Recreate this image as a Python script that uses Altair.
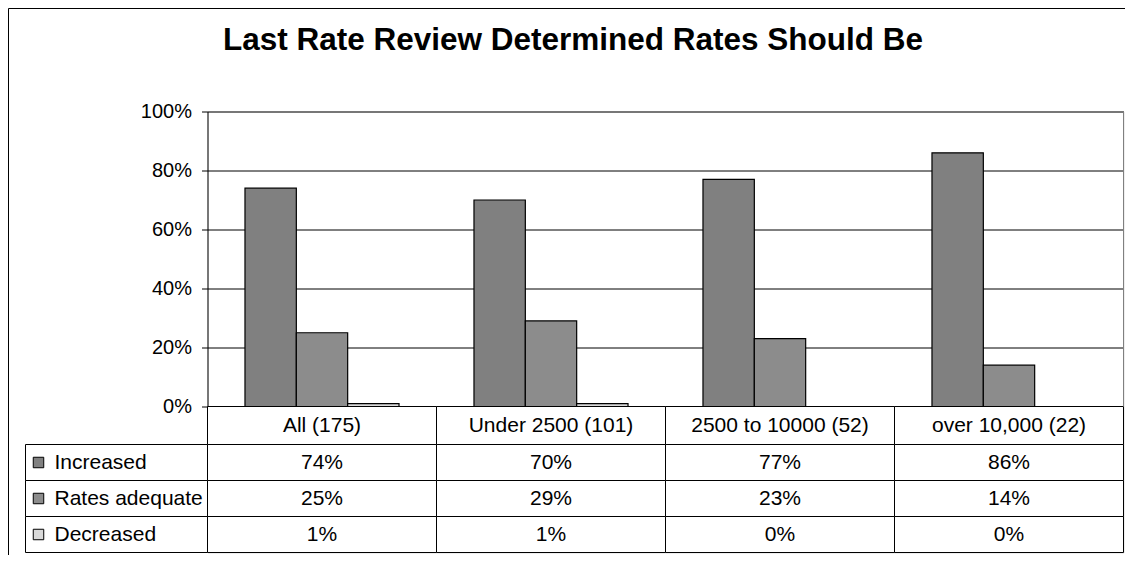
import altair as alt
import pandas as pd

title_text = "Last Rate Review Determined Rates Should Be"
categories = ["All (175)", "Under 2500 (101)", "2500 to 10000 (52)", "over 10,000 (22)"]
series = ["Increased", "Rates adequate", "Decreased"]
increased = [74, 70, 77, 86]
rates_adequate = [25, 29, 23, 14]
decreased = [1, 1, 0, 0]
colors = ["#808080", "#8c8c8c", "#d9d9d9"]
y_ticks = [0, 0.2, 0.4, 0.6, 0.8, 1.0]

rows = []
for s, vals in zip(series, [increased, rates_adequate, decreased]):
    for c, v in zip(categories, vals):
        rows.append({"category": c, "series": s, "value": v / 100, "label": f"{v}%"})
df = pd.DataFrame(rows)
cat_df = pd.DataFrame({"category": categories})
ser_df = pd.DataFrame({"series": series})
one = pd.DataFrame({"t": [title_text]})

FONT = "Liberation Sans"
W, PLOT_H, H = 916, 295, 441
HEAD_BOTTOM = 333

x_scale = alt.Scale(domain=categories, paddingInner=0, paddingOuter=0)
row_scale = alt.Scale(domain=series, range=[HEAD_BOTTOM, H], paddingInner=0, paddingOuter=0)
color_scale = alt.Scale(domain=series, range=colors)
X = alt.X("category:N", scale=x_scale, axis=None, sort=categories)
ROW = alt.Y("series:N", scale=row_scale, axis=None, sort=series)

border_left = alt.Chart(one).mark_rule(color="black", strokeWidth=1).encode(
    x=alt.value(-199), y=alt.value(-103), y2=alt.value(H + 30))
border_top = alt.Chart(one).mark_rule(color="black", strokeWidth=1).encode(
    y=alt.value(-103), x=alt.value(-199), x2=alt.value(W + 30))

header_cells = alt.Chart(cat_df).mark_rect(fill="white", stroke="black", strokeWidth=1).encode(
    x=X, y=alt.value(PLOT_H), y2=alt.value(HEAD_BOTTOM))
header_text = alt.Chart(cat_df).mark_text(font=FONT, fontSize=21, baseline="middle", color="black").encode(
    x=X, y=alt.value((PLOT_H + HEAD_BOTTOM) / 2), text="category:N")

table_cells = alt.Chart(df).mark_rect(fill="white", stroke="black", strokeWidth=1).encode(x=X, y=ROW)
table_text = alt.Chart(df).mark_text(font=FONT, fontSize=21, baseline="middle", color="black").encode(
    x=X, y=ROW, text="label:N")

left_cells = alt.Chart(ser_df).mark_rect(fill="white", stroke="black", strokeWidth=1).encode(
    x=alt.value(-182), x2=alt.value(0), y=ROW)
left_symbols = alt.Chart(ser_df).mark_square(size=110, filled=True, opacity=1, stroke="black", strokeWidth=1).encode(
    x=alt.value(-169), y=ROW, color=alt.Color("series:N", scale=color_scale, legend=None))
left_text = alt.Chart(ser_df).mark_text(font=FONT, fontSize=21, align="left", baseline="middle", color="black").encode(
    x=alt.value(-153), y=ROW, text="series:N")

bars = alt.Chart(df).mark_bar(stroke="black", strokeWidth=1.2, opacity=1).encode(
    x=X,
    xOffset=alt.XOffset("series:N", scale=alt.Scale(domain=series, paddingInner=0, paddingOuter=0.73), sort=series),
    y=alt.Y("value:Q", scale=alt.Scale(domain=[0, 1], range=[PLOT_H, 0], nice=False, zero=True),
            axis=alt.Axis(values=y_ticks, format=".0%", title=None, grid=True, gridColor="black",
                          gridOpacity=1, gridWidth=1, domainColor="black", domainOpacity=1,
                          tickColor="black", tickOpacity=1, tickSize=6,
                          labelPadding=10, labelFont=FONT, labelFontSize=20, labelColor="black")),
    color=alt.Color("series:N", scale=color_scale, legend=None),
)

plot_right = alt.Chart(one).mark_rule(color="#808080", strokeWidth=1).encode(
    x=alt.value(W), y=alt.value(0), y2=alt.value(PLOT_H))

title = alt.Chart(one).mark_text(font=FONT, fontSize=31.5, fontWeight="bold", align="center",
                                 baseline="alphabetic", color="black").encode(
    x=alt.value(365.5), y=alt.value(-61.5), text="t:N")

chart = alt.layer(
    border_left, border_top, header_cells, table_cells, left_cells, bars, plot_right,
    header_text, table_text, left_symbols, left_text, title,
).resolve_scale(y="independent").properties(
    width=W, height=H,
    autosize=alt.AutoSizeParams(type="none"),
    padding={"left": 199.5, "top": 103.5, "right": 1.5, "bottom": 2.5},
).configure_view(stroke=None).configure(background="white")

chart.save("out.html", embed_options={"renderer": "svg", "actions": False})
